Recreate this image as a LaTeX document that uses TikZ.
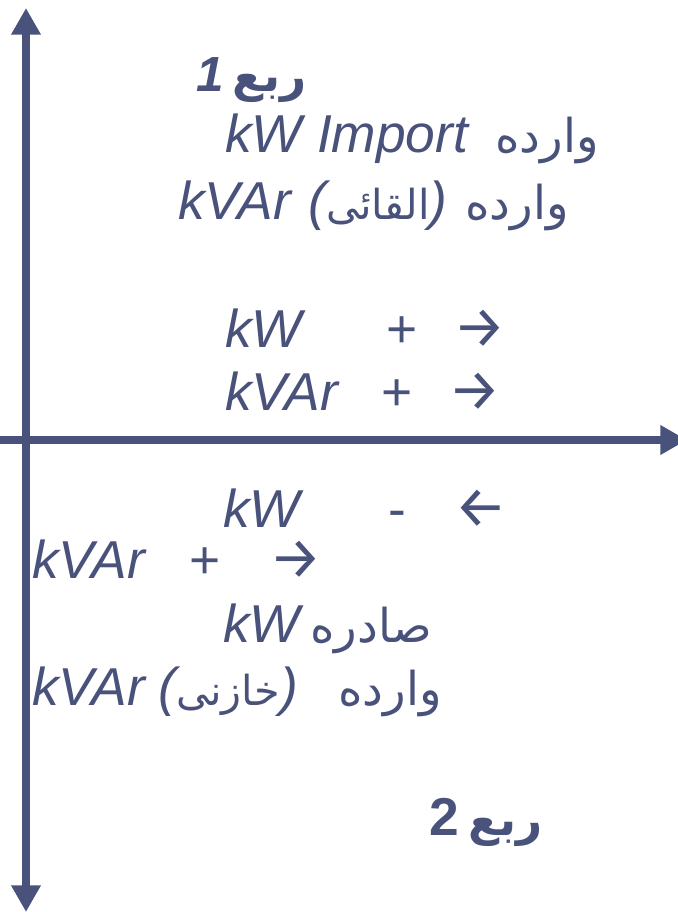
\documentclass[tikz,border=0pt]{standalone}
\usepackage{fontspec}
\setmainfont{Liberation Sans}
\newfontfamily\arabicfont[Script=Arabic]{DejaVu Sans}
\newfontfamily\arrowfont{Fira Sans}
\TeXXeTstate=1
\usetikzlibrary{arrows.meta,positioning}
\definecolor{axisblue}{RGB}{73,82,122}
\newcommand{\arabicword}[1]{{\fontsize{31}{38}\arabicfont\upshape\mdseries\beginR #1\endR}}
\tikzset{axis/.style={line width=6pt, draw=axisblue, {Triangle[length=20pt,width=21pt]}-{Triangle[length=20pt,width=21pt]}},
  txt/.style={inner sep=0pt, anchor=base west, text=axisblue},
  lbl/.style={txt, font=\fontsize{40}{48}\selectfont\itshape},
  sgn/.style={txt, font=\fontsize{40}{48}\selectfont},
  arr/.style={txt, font=\fontsize{44}{52}\arrowfont},
  ar/.style={txt, font=\fontsize{35}{42}\arabicfont},
  quad/.style={txt, font=\fontsize{34}{40}\arabicfont\bfseries}}

\begin{document}
\begin{tikzpicture}[x=0.75pt,y=-0.75pt]
    \useasboundingbox (0,0) rectangle (677,912);
    % axes
    \coordinate (top) at (26,8);
    \coordinate (bot) at (26,912);
    \coordinate (west) at (0,440);
    \coordinate (east) at (687,440);
    \draw[axis] (top) -- (bot);
    \draw[axis, -{Triangle[length=20pt,width=21pt]}] (west) -- (east);
    % quadrant 1
    \node[lbl, font=\fontsize{37}{44}\selectfont\bfseries\itshape] (n1) at (196,92) {1};
    \node[quad] (q1) at (232,92) {\beginR ربع\endR};
    \node[lbl] (kwimp) at (225,153) {kW Import};
    \node[ar] (in1) at (495,153) {\beginR وارده\endR};
    \node[lbl] (kvar1) at (178,220) {kVAr};
    \node[lbl] (ind) at (308,220) {(\arabicword{القائی})};
    \node[ar] (in2) at (465,220) {\beginR وارده\endR};
    \node[lbl] (kw1) at (225,347) {kW};
    \node[sgn] (p1) at (386,347) {+};
    \node[arr] (r1) at (453,347) {→};
    \node[lbl] (kvar2) at (225,410) {kVAr};
    \node[sgn] (p2) at (381,410) {+};
    \node[arr] (r2) at (448,410) {→};
    % quadrant 2
    \node[lbl] (kw2) at (223,527) {kW};
    \node[sgn] (m1) at (388,527) {-};
    \node[arr] (l1) at (454,527) {←};
    \node[lbl] (kvar3) at (32,578) {kVAr};
    \node[sgn] (p3) at (189,578) {+};
    \node[arr] (r3) at (269,578) {→};
    \node[lbl] (kwexp) at (223,642) {kW};
    \node[ar] (out1) at (310,642) {\beginR صادره\endR};
    \node[lbl] (kvar4) at (32,705) {kVAr};
    \node[lbl] (cap) at (158,705) {(\arabicword{خازنی})};
    \node[ar] (in3) at (338,705) {\beginR وارده\endR};
    \node[sgn, font=\fontsize{40}{48}\selectfont\bfseries] (n2) at (429,835) {2};
    \node[quad] (q2) at (468,835) {\beginR ربع\endR};
\end{tikzpicture}
\end{document}
